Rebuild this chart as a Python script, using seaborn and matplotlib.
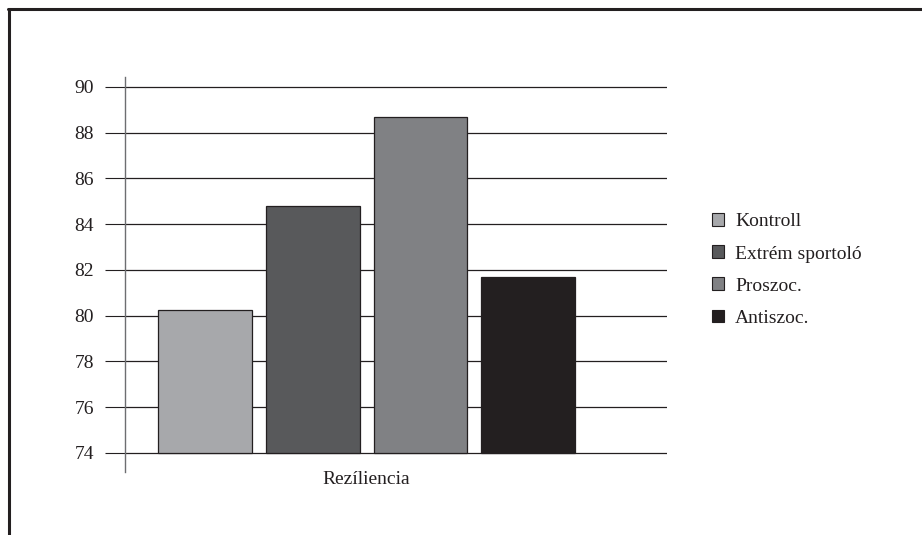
import matplotlib
matplotlib.use("Agg")
import matplotlib.pyplot as plt
import seaborn as sns
import pandas as pd
from matplotlib.lines import Line2D

# Data
categories = ["Rezíliencia"]
groups = ["Kontroll", "Extrém sportoló", "Proszoc.", "Antiszoc."]
values = [80.25, 84.8, 88.7, 81.7]
colors = ["#a7a8ab", "#58595b", "#808184", "#231f20"]
y_ticks = [74, 76, 78, 80, 82, 84, 86, 88, 90]
baseline = 74

df = pd.DataFrame({
    "kategoria": categories * len(groups),
    "csoport": groups,
    "ertek": values,
})

sns.set_theme(style="white")
plt.rcParams["font.family"] = ["Liberation Serif", "DejaVu Serif"]

FS = 14

fig = plt.figure(figsize=(9.22, 5.35), dpi=100)
ax = fig.add_axes([125 / 922, 1 - 472 / 535, (667 - 125) / 922, (472 - 77) / 535])

sns.barplot(
    data=df, x="kategoria", y="ertek", hue="csoport",
    hue_order=groups, palette=colors, width=0.8, gap=0.13,
    errorbar=None, edgecolor="#231f20", linewidth=0.9, saturation=1,
    ax=ax, zorder=3,
)

# bars start at the axis baseline rather than zero
for container in ax.containers:
    for p in container:
        h = p.get_height()
        p.set_y(baseline)
        p.set_height(h - baseline)

ax.set_ylim(73.169, 90.437)
ax.set_xlim(-0.449, 0.5586)
ax.set_yticks(y_ticks)
ax.set_yticklabels([str(t) for t in y_ticks], fontsize=FS, color="#231f20")
ax.set_xlabel("")
ax.set_ylabel("")
ax.tick_params(axis="y", direction="out", length=14.4, width=0.8,
               color="#231f20", pad=8, left=True)
ax.tick_params(axis="x", bottom=False, top=False, length=0, pad=-1,
               labelsize=FS, labelcolor="#231f20")

ax.yaxis.grid(True, color="#231f20", linewidth=0.9)
ax.xaxis.grid(False)
ax.set_axisbelow(True)
for s in ["top", "right", "bottom"]:
    ax.spines[s].set_visible(False)
ax.spines["left"].set_color("#6d6e71")
ax.spines["left"].set_linewidth(1.0)

# Legend
handles, labels = ax.get_legend_handles_labels()
ax.legend_.remove()
leg = fig.legend(
    handles, labels, loc="center left",
    bbox_to_anchor=(712 / 922, 1 - 270 / 535),
    frameon=False, fontsize=FS, handlelength=0.62, handleheight=0.62,
    handletextpad=0.57, labelspacing=0.77, borderpad=0, borderaxespad=0,
)
for t in leg.get_texts():
    t.set_color("#231f20")
for h in leg.legend_handles:
    h.set_edgecolor("#231f20")
    h.set_linewidth(0.8)

# Outer frame (left and top edges)
fig.add_artist(Line2D([9 / 922, 9 / 922], [0, 1 - 9 / 535],
                      transform=fig.transFigure, color="#231f20", linewidth=2.2))
fig.add_artist(Line2D([8 / 922, 1], [1 - 9 / 535, 1 - 9 / 535],
                      transform=fig.transFigure, color="#231f20", linewidth=2.2))

fig.savefig("out.png", dpi=100, facecolor="white")
